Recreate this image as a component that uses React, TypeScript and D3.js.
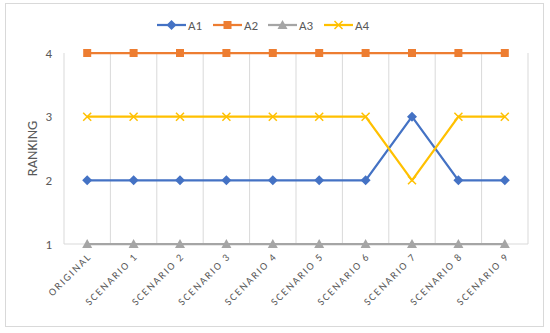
import React from "react";
import * as d3 from "d3";

// categories and rankings
const categories = [
  "ORIGINAL",
  "SCENARIO 1",
  "SCENARIO 2",
  "SCENARIO 3",
  "SCENARIO 4",
  "SCENARIO 5",
  "SCENARIO 6",
  "SCENARIO 7",
  "SCENARIO 8",
  "SCENARIO 9",
];
const a1 = [2, 2, 2, 2, 2, 2, 2, 3, 2, 2];
const a2 = [4, 4, 4, 4, 4, 4, 4, 4, 4, 4];
const a3 = [1, 1, 1, 1, 1, 1, 1, 1, 1, 1];
const a4 = [3, 3, 3, 3, 3, 3, 3, 2, 3, 3];
const yTicks = [1, 2, 3, 4];

const seriesNames = ["A1", "A2", "A3", "A4"];
const seriesColors = ["#4472C4", "#ED7D31", "#A5A5A5", "#FFC000"];
const seriesShapes = ["diamond", "square", "triangle", "x"];

const W = 550;
const H = 333;
const margin = { left: 64, right: 22, top: 53, bottom: 89 };

const Marker = ({ shape, x, y, color }: { shape: string; x: number; y: number; color: string }) => {
  if (shape === "diamond") {
    return <path d={`M${x},${y - 5}L${x + 5},${y}L${x},${y + 5}L${x - 5},${y}Z`} fill={color} />;
  }
  if (shape === "square") {
    return <rect x={x - 4} y={y - 4} width={8} height={8} fill={color} />;
  }
  if (shape === "triangle") {
    return <path d={`M${x},${y - 5}L${x + 5},${y + 4}L${x - 5},${y + 4}Z`} fill={color} />;
  }
  return (
    <path
      d={`M${x - 4},${y - 4}L${x + 4},${y + 4}M${x + 4},${y - 4}L${x - 4},${y + 4}`}
      stroke={color}
      strokeWidth={1.5}
      fill="none"
    />
  );
};

export default function App() {
  const series = [a1, a2, a3, a4];

  const x = d3
    .scaleBand<string>()
    .domain(categories)
    .range([margin.left, W - margin.right]);
  const y = d3
    .scaleLinear()
    .domain([1, 4])
    .range([H - margin.bottom, margin.top]);

  const cx = (c: string) => (x(c) ?? 0) + x.bandwidth() / 2;
  const lineGen = d3
    .line<number>()
    .x((_, i) => cx(categories[i]))
    .y((d) => y(d));

  const legendX = [157, 213, 268, 324];
  const legendY = 25;

  return (
    <svg
      width={W}
      height={H}
      style={{ position: "absolute", left: 0, top: 0, background: "#fff" }}
      fontFamily="Carlito, 'Open Sans', 'Liberation Sans', Arial, sans-serif"
    >
      <rect x={5.5} y={3.5} width={538} height={323} fill="#fff" stroke="#D9D9D9" />

      {/* vertical gridlines at category boundaries */}
      {categories.map((c) => (
        <line
          key={c}
          x1={(x(c) ?? 0) + x.bandwidth()}
          x2={(x(c) ?? 0) + x.bandwidth()}
          y1={y(4)}
          y2={y(1)}
          stroke="#D9D9D9"
        />
      ))}
      <line x1={margin.left} x2={margin.left} y1={y(4)} y2={y(1)} stroke="#D9D9D9" />
      <line x1={margin.left} x2={W - margin.right} y1={y(1)} y2={y(1)} stroke="#D9D9D9" />

      {/* y ticks */}
      {yTicks.map((t) => (
        <text key={t} x={52} y={y(t)} dy="0.35em" textAnchor="end" fontSize={13} fill="#595959">
          {t}
        </text>
      ))}
      <text
        transform={`translate(37,${(y(1) + y(4)) / 2}) rotate(-90)`}
        textAnchor="middle"
        fontSize={14.5}
        fill="#595959"
      >
        RANKING
      </text>

      {/* x labels */}
      {categories.map((c) => (
        <text
          key={c}
          transform={`translate(${cx(c) + 5},${y(1) + 13}) rotate(-45)`}
          textAnchor="end"
          fontSize={10.5}
          letterSpacing={1.8}
          fill="#595959"
        >
          {c}
        </text>
      ))}

      {/* series */}
      {series.map((s, si) => (
        <g key={seriesNames[si]}>
          <path d={lineGen(s) ?? ""} fill="none" stroke={seriesColors[si]} strokeWidth={2.25} />
          {s.map((v, i) => (
            <Marker key={i} shape={seriesShapes[si]} x={cx(categories[i])} y={y(v)} color={seriesColors[si]} />
          ))}
        </g>
      ))}

      {/* legend */}
      {seriesNames.map((n, si) => (
        <g key={n}>
          <line
            x1={legendX[si]}
            x2={legendX[si] + 29}
            y1={legendY}
            y2={legendY}
            stroke={seriesColors[si]}
            strokeWidth={2.25}
          />
          <Marker shape={seriesShapes[si]} x={legendX[si] + 14.5} y={legendY} color={seriesColors[si]} />
          <text x={legendX[si] + 31} y={legendY} dy="0.35em" fontSize={13} fill="#595959">
            {n}
          </text>
        </g>
      ))}
    </svg>
  );
}
